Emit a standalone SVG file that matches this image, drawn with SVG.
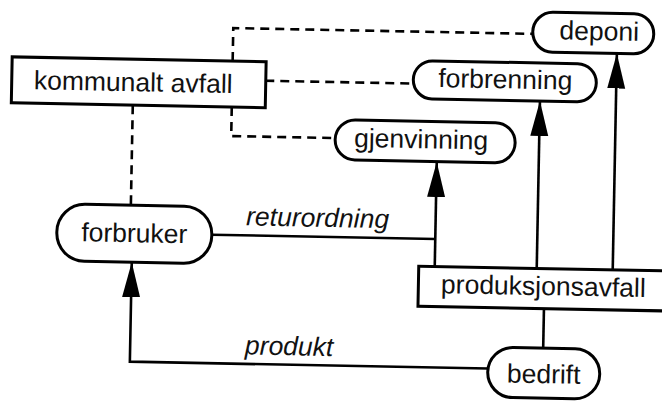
<svg xmlns="http://www.w3.org/2000/svg" width="662" height="401" viewBox="0 0 662 401">
<style>
.box{fill:#fff;stroke:#000;stroke-width:3}
.t{font-family:"Liberation Sans",Arial,Helvetica,sans-serif;font-size:26.5px;fill:#111;text-anchor:middle}
.i{font-style:italic}
.ln{fill:none;stroke:#000;stroke-width:2.6}
.ds{fill:none;stroke:#000;stroke-width:2.6;stroke-dasharray:9 6}
</style>
<defs>
<marker id="ah" markerUnits="userSpaceOnUse" markerWidth="36" markerHeight="20" viewBox="0 0 36 20" refX="35" refY="10" orient="auto">
<path d="M0,1 L35,10 L0,19 z" fill="#000"/>
</marker>
</defs>
<rect width="662" height="401" fill="#fff"/>
<g transform="rotate(1.1 331 200)">
<g id="connectors">
<path class="ds" d="M131,109 V208"/>
<path class="ds" d="M230,63 V30 H529"/>
<path class="ds" d="M263,82 H411"/>
<path class="ds" d="M230,109 V138 H334"/>
<path class="ln" d="M212,237 H436"/>
<path class="ln" d="M436,264 V160" marker-end="url(#ah)"/>
<path class="ln" d="M538,264 V97" marker-end="url(#ah)"/>
<path class="ln" d="M614,264 V48" marker-end="url(#ah)"/>
<path class="ln" d="M546,304 V344"/>
<path class="ln" d="M491,365.5 H133 V266" marker-end="url(#ah)"/>
<text class="t i" x="318" y="227">returordning</text>
<text class="t i" x="292" y="356">produkt</text>
</g>
<g id="kommunalt"><rect class="box" x="9.5" y="63" width="254" height="46"/><text class="t" x="131" y="95">kommunalt avfall</text></g>
<g id="deponi"><rect class="box" x="529.5" y="8" width="121" height="40" rx="20"/><text class="t" x="596" y="35">deponi</text></g>
<g id="forbrenning"><rect class="box" x="411" y="59" width="183" height="38" rx="19"/><text class="t" x="503" y="85">forbrenning</text></g>
<g id="gjenvinning"><rect class="box" x="334" y="119.5" width="180" height="40" rx="20"/><text class="t" x="420" y="146.5">gjenvinning</text></g>
<g id="forbruker"><rect class="box" x="57.5" y="209" width="155" height="57" rx="28"/><text class="t" x="135" y="246">forbruker</text></g>
<g id="produksjonsavfall"><rect class="box" x="420" y="264.5" width="260" height="40"/><text class="t" x="545" y="291">produksjonsavfall</text></g>
<g id="bedrift"><rect class="box" x="491" y="344" width="112" height="50" rx="25"/><text class="t" x="547" y="379">bedrift</text></g>
</g>
</svg>
